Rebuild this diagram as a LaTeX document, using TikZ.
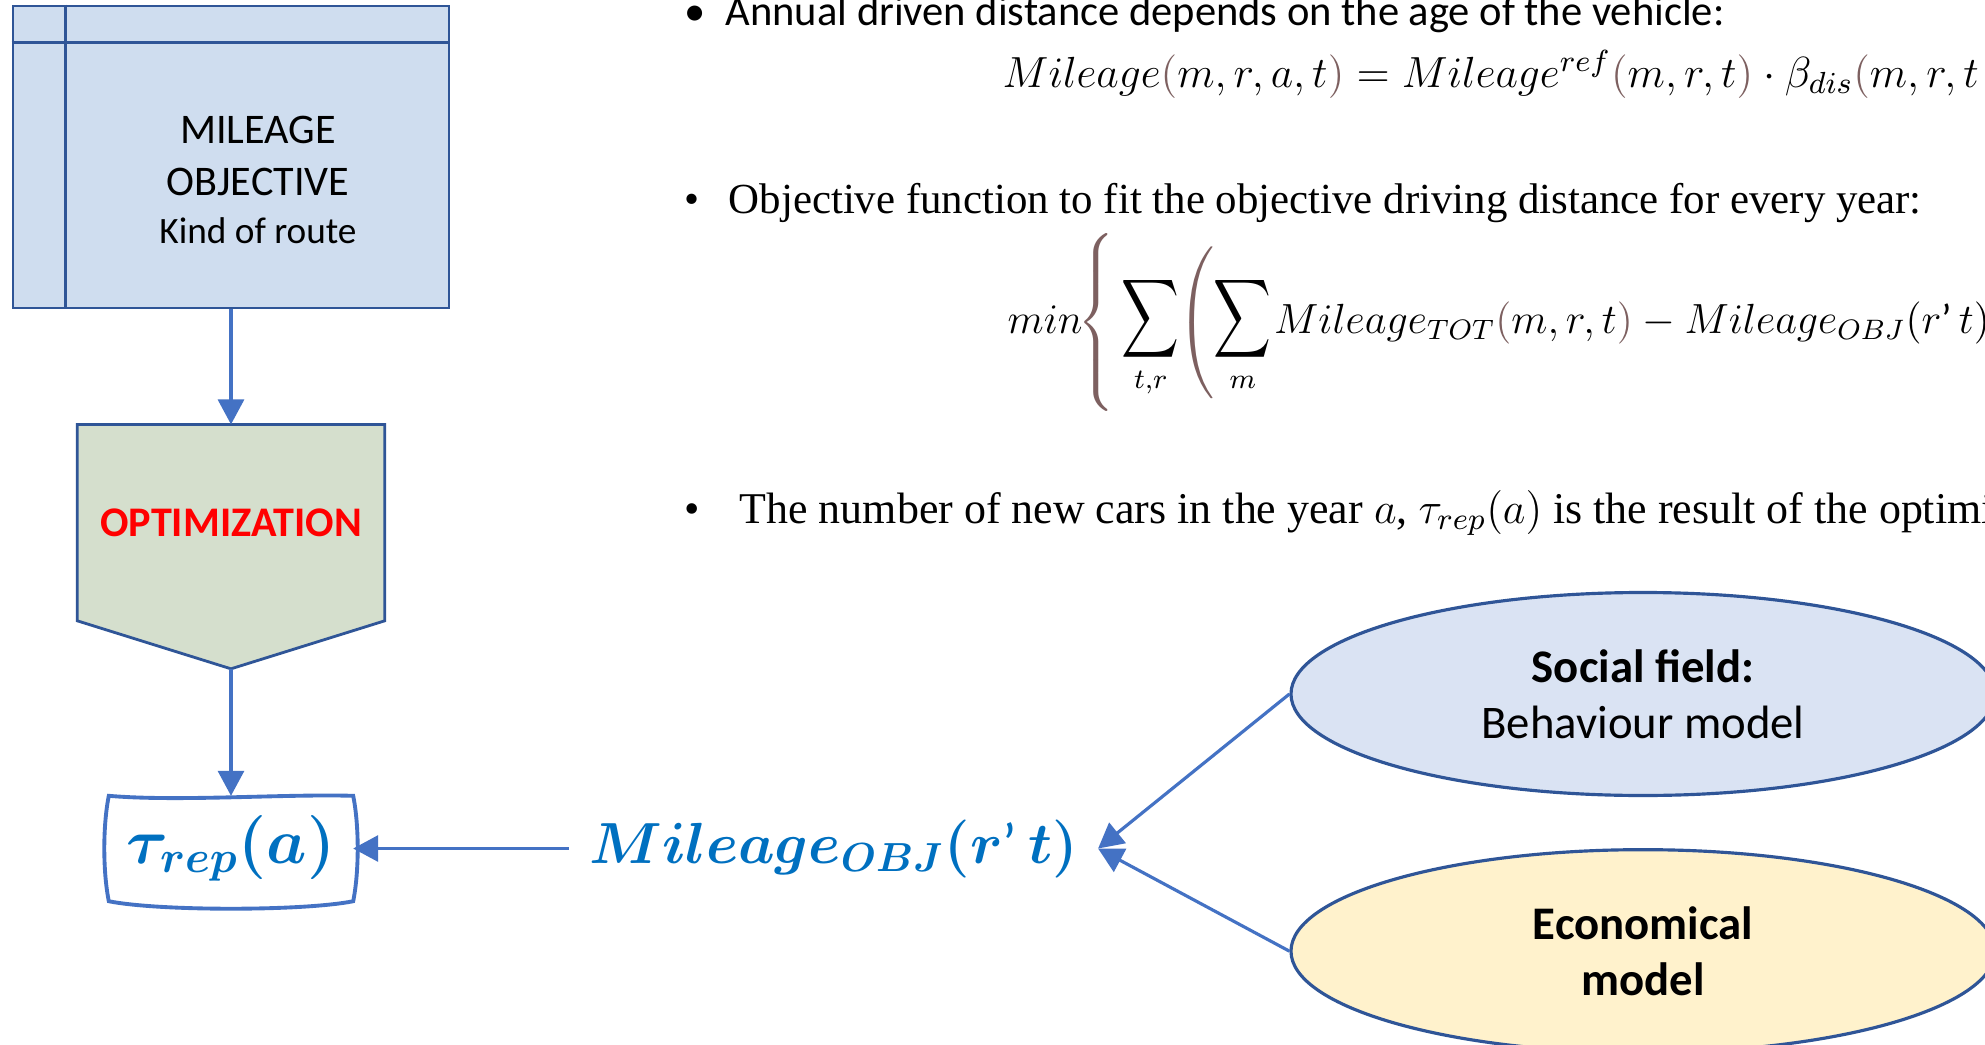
\RequirePackage{fix-cm}
\documentclass[tikz,border=0pt]{standalone}
\usepackage{amsmath}
\usepackage{graphicx}
\usepackage{xcolor}
\usepackage{fontspec}
\setmainfont{Carlito}
\newfontfamily\timesfont{Liberation Serif}
\usepackage{tikz}
\usetikzlibrary{shapes.geometric, arrows.meta, positioning, backgrounds, calc}

\definecolor{storeblue}{RGB}{207,221,239}
\definecolor{optgreen}{RGB}{213,223,205}
\definecolor{socialblue}{RGB}{218,227,243}
\definecolor{econyellow}{RGB}{255,242,204}
\definecolor{boxline}{RGB}{47,85,151}
\definecolor{arrowblue}{RGB}{68,114,196}
\definecolor{mathblue}{RGB}{0,112,192}
\definecolor{parbrown}{RGB}{125,96,96}

\newcommand{\bpl}{\textcolor{parbrown}{(}}
\newcommand{\bpr}{\textcolor{parbrown}{)}}
\newcommand{\tallsum}{\mathop{\scalebox{0.95}[1.3]{$\displaystyle\sum$}}\limits}

\begin{document}
\begin{tikzpicture}[
    outline/.style={draw=boxline, line width=0.8pt},
    boxtext/.style={font=\fontsize{12}{14.8}\selectfont, align=center, inner sep=0pt},
    arrow/.style={-{Triangle[length=2.5mm, width=2.6mm]}, line width=0.9pt, draw=arrowblue},
    model/.style={ellipse, draw=boxline, line width=0.9pt, fill=#1, minimum width=7.04cm, minimum height=2.03cm, align=center, font=\fontsize{13.3}{15.9}\selectfont},
    bigmath/.style={text=mathblue, font=\fontsize{16.5}{20}\selectfont, inner sep=0pt},
    bullettext/.style={anchor=base west, inner sep=0pt, font=#1},
    eqtext/.style={anchor=base west, inner sep=0pt, font=\fontsize{#1}{14}\selectfont}
]
    \useasboundingbox (0,0) rectangle (19.85,-10.45);
    \clip (0,0) rectangle (19.85,-10.45);

    % Left column
    \node[outline, fill=storeblue, minimum width=4.36cm, minimum height=3.02cm] (store) at (2.31,-1.57) {};
    \draw[outline] ([xshift=0.54cm]store.north west) -- ([xshift=0.54cm]store.south west);
    \draw[outline] ([yshift=-0.38cm]store.north west) -- ([yshift=-0.38cm]store.north east);
    \node[boxtext] (storelbl) at ([xshift=0.27cm, yshift=-0.23cm]store.center)
        {MILEAGE\\OBJECTIVE\\[-1.2pt]{\fontsize{10.6}{12.5}\selectfont Kind of route}};

    \node[below=1.15cm of store, minimum width=3.06cm, minimum height=1.95cm, inner sep=0pt,
          font=\fontsize{12}{14}\selectfont\bfseries, text=red] (opt) {OPTIMIZATION};
    \coordinate (optTip) at ([yshift=-0.48cm]opt.south);

    \node[below=1.75cm of opt, minimum width=2.43cm, minimum height=1.04cm, bigmath,
          font=\fontsize{18.2}{22}\selectfont] (tau) {$\boldsymbol{\tau_{rep}(a)}$};

    % Middle
    \node[right=2.155cm of tau, minimum width=5.28cm, bigmath] (mil)
        {$\boldsymbol{Mileage_{OBJ}(r\text{’}\,t)}$};

    % Models
    \node[model=socialblue] (social) at (16.43,-6.94) {\textbf{Social field:}\\Behaviour model};
    \node[model=econyellow, below=0.51cm of social, font=\fontsize{13.3}{15.9}\selectfont\bfseries] (econ) {Economical\\model};

    % Bullets
    \node[bullettext=\fontsize{12.1}{14}\selectfont] (bulA) at (6.84,-0.25)
        {\makebox[0.41cm][l]{•}Annual driven distance depends on the age of the vehicle:};
    \node[eqtext=12.4] (eqA) at (10.02,-0.87)
        {$Mileage\bpl m,r,a,t\bpr = Mileage^{ref}\bpl m,r,t\bpr\cdot\beta_{dis}\bpl m,r,t$};
    \node[bullettext=\timesfont\fontsize{12.2}{15}\selectfont] (bulB) at (6.84,-2.13)
        {\makebox[0.44cm][l]{•}Objective function to fit the objective driving distance for every year:};
    \node[eqtext=12] (eqB) at (10.07,-3.33)
        {$\displaystyle min\mkern-2mu\textcolor{parbrown}{\left\{\vrule height 0.98cm depth 0.78cm width 0pt\right.}\mkern-2mu
        \tallsum_{t,r}\mkern-4mu
        \textcolor{parbrown}{\left(\vrule height 0.86cm depth 0.66cm width 0pt\right.}\mkern-5mu
        \tallsum_{m}\mkern-2mu
        Mileage_{TOT}\bpl m,r,t\bpr - Mileage_{OBJ}(r\text{’}\,t)$};
    \node[bullettext=\timesfont\fontsize{12.5}{15}\selectfont] (bulC) at (6.84,-5.23)
        {\makebox[0.55cm][l]{•}The number of new cars in the year $a$, $\tau_{rep}(a)$ is the result of the optimiz};

    % Shapes behind
    \begin{scope}[on background layer]
        \fill[white] (0,0) rectangle (19.85,-10.45);
        \draw[outline, fill=optgreen] (opt.north west) -- (opt.north east) -- (opt.south east)
            -- (optTip) -- (opt.south west) -- cycle;
        \draw[draw=arrowblue, line width=1.1pt, fill=white]
            (tau.north west) .. controls +(0.7,-0.06) and +(-0.7,0.02) .. (tau.north east)
            .. controls +(0.06,-0.3) and +(0.06,0.3) .. (tau.south east)
            .. controls +(-0.5,-0.1) and +(0.5,-0.1) .. (tau.south west)
            .. controls +(-0.06,0.3) and +(-0.06,-0.3) .. (tau.north west) -- cycle;
    \end{scope}

    % Arrows
    \draw[arrow] (store.south) -- (opt.north);
    \draw[arrow] (optTip) -- (tau.north);
    \draw[arrow] (mil.west) -- (tau.east);
    \draw[arrow] (social.west) -- (mil.east);
    \draw[arrow] (econ.west) -- (mil.east);
\end{tikzpicture}
\end{document}
